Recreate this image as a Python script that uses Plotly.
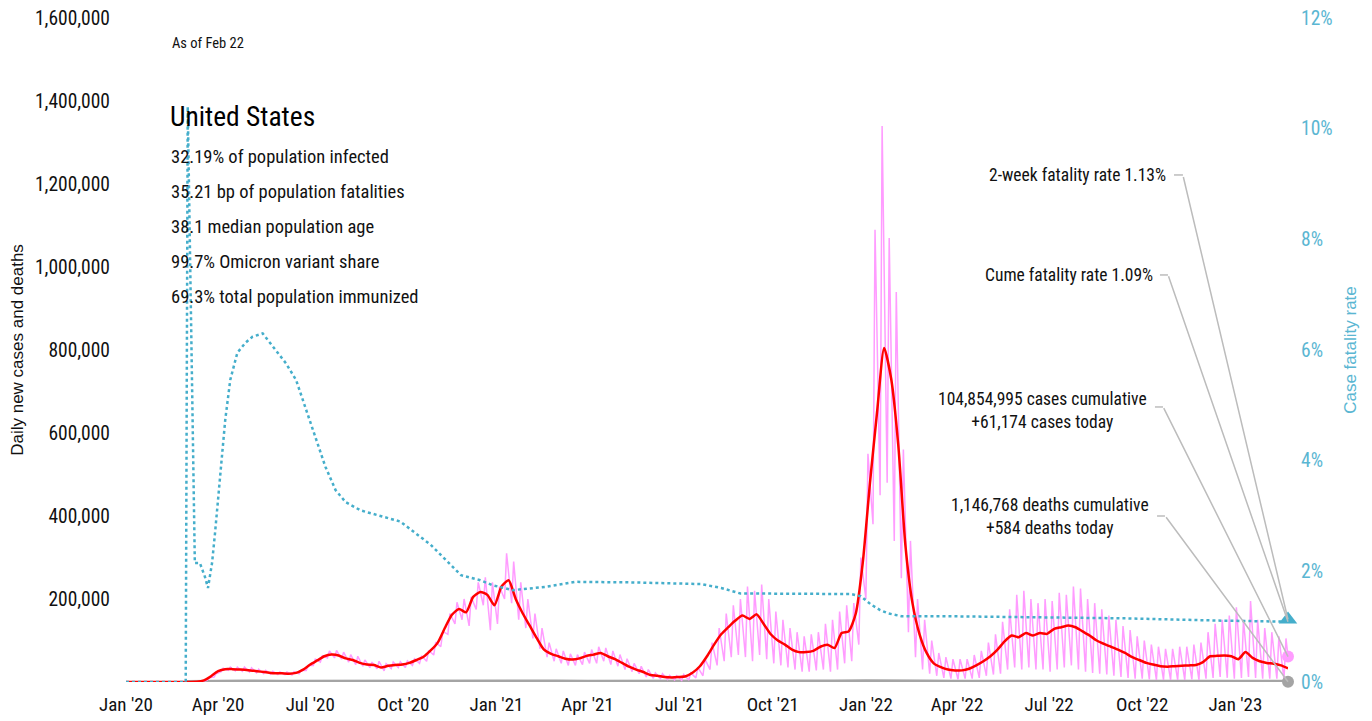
import pandas as pd
import plotly.graph_objects as go

# ---------------- data ----------------
START = "2020-01-01"
END = "2023-02-22"

# weekly 7-day average of new cases (thousands), one value per week starting 2020-01-01
cases_avg_k = [
    0, 0, 0, 0, 0, 0, 0, 0, 0, 0.1, 0.6, 4, 14, 26, 31, 31, 30, 29, 27, 25, 23, 21, 21, 20, 22, 30,
    42, 52, 62, 66, 64, 57, 53, 46, 42, 41, 35, 39, 41, 42, 46, 53, 61, 76, 95, 130, 162, 176, 168,
    205, 217, 210, 185,
    # 2021
    230, 245, 200, 165, 135, 105, 78, 68, 62, 56, 54, 57, 63, 66, 70, 62, 55, 46, 37, 30, 24, 17,
    15, 12, 11, 12, 14, 23, 38, 62, 90, 115, 132, 148, 160, 152, 163, 140, 115, 100, 90, 78, 72, 72,
    75, 85, 90, 82, 118, 122, 165, 290,
    # 2022
    480, 650, 805, 730, 570, 330, 190, 115, 70, 45, 36, 30, 28, 28, 32, 40, 50, 62, 78, 98, 112, 108,
    118, 112, 118, 116, 128, 132, 136, 132, 122, 112, 100, 92, 85, 78, 70, 60, 53, 46, 42, 38, 37,
    38, 39, 40, 41, 48, 62, 63, 64, 62,
    # 2023
    55, 72, 58, 50, 46, 44, 40, 33,
]

# daily new cases (thousands): weekly weekend low and weekly reporting-day high
cases_low_k = [
    0, 0, 0, 0, 0, 0, 0, 0, 0, 0.05, 0.5, 4, 12, 25, 28, 27, 26, 24, 22, 20, 19, 18, 18, 17, 20, 28,
    40, 48, 58, 58, 55, 48, 42, 38, 35, 32, 27, 32, 35, 35, 40, 45, 50, 65, 85, 115, 140, 150, 135,
    175, 185, 125, 140,
    200, 190, 150, 130, 105, 80, 60, 50, 45, 40, 40, 42, 45, 45, 50, 42, 38, 30, 25, 20, 12, 9,
    8, 6, 5, 4, 5, 10, 15, 30, 40, 50, 60, 65, 60, 50, 65, 55, 45, 40, 35, 30, 25, 25,
    28, 30, 25, 30, 45, 50, 90, 200,
    380, 450, 480, 340, 250, 120, 60, 30, 20, 15, 10, 8, 6, 8, 8, 10, 15, 18, 20, 30, 35, 30,
    35, 30, 30, 25, 30, 35, 40, 30, 25, 22, 20, 18, 15, 12, 10, 8, 8, 6, 5, 5, 5,
    5, 5, 6, 5, 8, 10, 12, 10, 8,
    10, 12, 10, 8, 8, 8, 6,
]
cases_high_k = [
    0, 0, 0, 0, 0, 0, 0, 0, 0, 0.2, 1.5, 10, 20, 33, 36, 36, 36, 34, 31, 28, 26, 24, 24, 25, 28, 40,
    55, 63, 75, 76, 72, 66, 62, 53, 48, 50, 44, 48, 49, 51, 56, 63, 76, 96, 122, 165, 192, 200, 205,
    240, 252, 240, 230,
    310, 290, 240, 200, 165, 130, 95, 80, 75, 68, 66, 72, 78, 85, 82, 75, 66, 56, 45, 38, 30, 22,
    20, 16, 15, 18, 22, 35, 55, 95, 130, 165, 185, 200, 230, 220, 235, 200, 170, 150, 130, 120, 110, 115,
    120, 140, 150, 170, 185, 190, 300, 550,
    1090, 1340, 1070, 940, 560, 340, 200, 150, 100, 70, 60, 55, 55, 55, 65, 75, 95, 115, 145, 175, 210, 220,
    200, 190, 200, 195, 215, 210, 230, 225, 200, 190, 175, 160, 150, 135, 125, 110, 100, 90, 85, 80, 80,
    85, 85, 90, 95, 120, 140, 150, 160, 180,
    150, 195, 150, 130, 120, 110, 105,
]
cases_today = 61174

# daily deaths, monthly level from March 2020
deaths_monthly = [
    50, 1900, 1500, 750, 850, 1050, 800, 750, 1200, 2500,
    3200, 2200, 1200, 750, 600, 350, 250, 700, 1800, 1500, 1100, 1250,
    2000, 2400, 1100, 500, 350, 320, 400, 480, 420, 380, 320, 400,
    520, 470,
]
deaths_today = 584

# cumulative case fatality rate (%)
cfr_dates = [
    "2020-01-01", "2020-02-29", "2020-03-02", "2020-03-09", "2020-03-14", "2020-03-19", "2020-03-22",
    "2020-03-26", "2020-03-29", "2020-04-03", "2020-04-08", "2020-04-13", "2020-04-20", "2020-04-28",
    "2020-05-05", "2020-05-15", "2020-05-25", "2020-06-07", "2020-06-17", "2020-06-26", "2020-07-06",
    "2020-07-16", "2020-07-26", "2020-08-05", "2020-08-20", "2020-08-30", "2020-09-28", "2020-10-28",
    "2020-11-27", "2020-12-16", "2020-12-28", "2021-01-17", "2021-02-19", "2021-03-20", "2021-05-15",
    "2021-07-22", "2021-08-11", "2021-08-30", "2021-10-15", "2021-12-17", "2021-12-27", "2022-01-06",
    "2022-01-15", "2022-01-23", "2022-02-05", "2022-03-15", "2022-06-15", "2022-09-15", "2022-12-15",
    "2023-02-22",
]
cfr_pct = [
    0, 0, 10.4, 2.15, 2.15, 1.9, 1.7, 2.15, 2.7, 3.65, 4.73, 5.46, 5.95, 6.13, 6.24, 6.3, 6.06, 5.76,
    5.46, 4.97, 4.43, 3.89, 3.47, 3.25, 3.1, 3.05, 2.9, 2.48, 1.93, 1.84, 1.75, 1.66, 1.72, 1.81, 1.8,
    1.77, 1.7, 1.6, 1.6, 1.59, 1.55, 1.4, 1.3, 1.24, 1.19, 1.19, 1.17, 1.15, 1.11, 1.09,
]
two_week_cfr = 1.13

left_tickvals = [200000, 400000, 600000, 800000, 1000000, 1200000, 1400000, 1600000]
right_tickvals = [0, 2, 4, 6, 8, 10, 12]
x_tickvals = ["2020-01-01", "2020-04-01", "2020-07-01", "2020-10-01", "2021-01-01", "2021-04-01",
              "2021-07-01", "2021-10-01", "2022-01-01", "2022-04-01", "2022-07-01", "2022-10-01",
              "2023-01-01"]
x_ticktext = ["Jan '20", "Apr '20", "Jul '20", "Oct '20", "Jan '21", "Apr '21", "Jul '21",
              "Oct '21", "Jan '22", "Apr '22", "Jul '22", "Oct '22", "Jan '23"]

stats_lines = [
    "32.19% of population infected",
    "35.21 bp of population fatalities",
    "38.1 median population age",
    "99.7% Omicron variant share",
    "69.3% total population immunized",
]

# ---------------- derived series ----------------
week_dates = pd.date_range(START, END, freq="7D")
assert len(week_dates) == len(cases_avg_k)
avg_y = [v * 1000 for v in cases_avg_k]

daily_x, daily_y = [], []
for i in range(len(cases_high_k)):
    daily_x.append(week_dates[i] + pd.Timedelta(days=3))
    daily_y.append(cases_low_k[i] * 1000)
    daily_x.append(week_dates[i] + pd.Timedelta(days=5))
    daily_y.append(cases_high_k[i] * 1000)
daily_x.append(pd.Timestamp(END))
daily_y.append(cases_today)

death_dates = list(pd.date_range("2020-03-01", periods=len(deaths_monthly), freq="MS")) + [pd.Timestamp(END)]
death_vals = deaths_monthly + [deaths_today]

NARROW = "Roboto Condensed, Noto Sans Condensed, Liberation Sans Narrow, DejaVu Sans Condensed, sans-serif"
REG = "Liberation Sans, Arial, sans-serif"
TEAL = "#45aecb"
TEAL_TXT = "#5ab6d2"
PINK = "#ff9cff"
RED = "#ff0000"
GRAY = "#a4a4a4"
LEAD = "#bcbcbc"

fig = go.Figure()
fig.add_trace(go.Scatter(x=death_dates, y=death_vals, mode="lines", cliponaxis=False,
                         line=dict(color=GRAY, width=4), hoverinfo="skip"))
fig.add_trace(go.Scatter(x=daily_x, y=daily_y, mode="lines", cliponaxis=False,
                         line=dict(color=PINK, width=1.5), hoverinfo="skip"))
fig.add_trace(go.Scatter(x=week_dates, y=avg_y, mode="lines", cliponaxis=False,
                         line=dict(color=RED, width=2.5, shape="spline", smoothing=0.6), hoverinfo="skip"))
fig.add_trace(go.Scatter(x=[END], y=[cases_today], mode="markers", cliponaxis=False,
                         marker=dict(color=PINK, size=12), hoverinfo="skip"))
fig.add_trace(go.Scatter(x=[END], y=[deaths_today], mode="markers", cliponaxis=False,
                         marker=dict(color=GRAY, size=12), hoverinfo="skip"))
fig.add_trace(go.Scatter(x=pd.to_datetime(cfr_dates), y=cfr_pct, mode="lines", yaxis="y2", cliponaxis=False,
                         line=dict(color=TEAL, width=2.5, dash="dot"), hoverinfo="skip"))
fig.add_trace(go.Scatter(x=[END], y=[two_week_cfr], mode="markers", yaxis="y2", cliponaxis=False,
                         marker=dict(color=TEAL, size=16, symbol="triangle-up"), hoverinfo="skip"))

# page body has an 8px margin: figure sized so the plot area lands at x 126-1288, y 18-682
fig.update_layout(
    width=1364, height=713, autosize=False,
    margin=dict(l=118, r=84, t=10, b=39, autoexpand=False),
    paper_bgcolor="white", plot_bgcolor="white",
    showlegend=False,
    xaxis=dict(range=[START, END], tickvals=x_tickvals, ticktext=x_ticktext, automargin=False,
               showgrid=False, zeroline=False, showline=False, ticks="", ticklabeloverflow="allow",
               tickfont=dict(family=NARROW, size=19, color="#111"), ticklabelstandoff=9),
    yaxis=dict(range=[0, 1600000], tickvals=left_tickvals,
               ticktext=[f"{v:,}" for v in left_tickvals], automargin=False,
               showgrid=False, zeroline=False, showline=False, ticks="", ticklabeloverflow="allow",
               tickfont=dict(family=NARROW, size=19.5, color="#111"), ticklabelstandoff=15,
               title=dict(text="Daily new cases and deaths", font=dict(family=REG, size=17, color="#111"),
                          standoff=6)),
    yaxis2=dict(range=[0, 12], tickvals=right_tickvals, ticktext=[f"{v}%" for v in right_tickvals],
                overlaying="y", side="right", automargin=False,
                showgrid=False, zeroline=False, showline=False, ticks="", ticklabeloverflow="allow",
                tickfont=dict(family=NARROW, size=19.5, color=TEAL_TXT), ticklabelstandoff=12,
                title=dict(text="Case fatality rate", font=dict(family=REG, size=17, color=TEAL_TXT),
                           standoff=12)),
)

ann = []
ann.append(dict(text="As of Feb 22", x=0.038, y=0.961, xref="paper", yref="paper", xanchor="left",
                yanchor="middle", showarrow=False, font=dict(family=NARROW, size=14.5, color="#111")))
ann.append(dict(text="United States", x=0.036, y=0.851, xref="paper", yref="paper", xanchor="left",
                yanchor="middle", showarrow=False, font=dict(family=NARROW, size=27.5, color="#000")))
stat_y = [0.7907, 0.738, 0.6852, 0.6325, 0.580]
for t, yy in zip(stats_lines, stat_y):
    ann.append(dict(text=t, x=0.037, y=yy, xref="paper", yref="paper", xanchor="left", yanchor="middle",
                    showarrow=False, font=dict(family=NARROW, size=18.5, color="#111")))

RFONT = dict(family=NARROW, size=17.5, color="#111")
ann.append(dict(text="2-week fatality rate 1.13%", x=0.8967, y=0.7636, xref="paper", yref="paper",
                xanchor="right", yanchor="middle", showarrow=False, font=RFONT))
ann.append(dict(text="Cume fatality rate 1.09%", x=0.8855, y=0.613, xref="paper", yref="paper",
                xanchor="right", yanchor="middle", showarrow=False, font=RFONT))
ann.append(dict(text="104,854,995 cases cumulative<br>+61,174 cases today", x=0.789, y=0.4096,
                xref="paper", yref="paper", xanchor="center", yanchor="middle", align="center",
                showarrow=False, font=RFONT))
ann.append(dict(text="1,146,768 deaths cumulative<br>+584 deaths today", x=0.795, y=0.25,
                xref="paper", yref="paper", xanchor="center", yanchor="middle", align="center",
                showarrow=False, font=RFONT))

# leader lines: arrow from label to end markers
ann.append(dict(text="", x=END, y=two_week_cfr, xref="x", yref="y2", showarrow=True, ax=-105, ay=-444,
                arrowhead=0, arrowwidth=1.5, arrowcolor=LEAD, standoff=0))
ann.append(dict(text="", x=END, y=cfr_pct[-1], xref="x", yref="y2", showarrow=True, ax=-120, ay=-347,
                arrowhead=0, arrowwidth=1.5, arrowcolor=LEAD, standoff=0))
ann.append(dict(text="", x=END, y=cases_today, xref="x", yref="y", showarrow=True, ax=-125, ay=-250,
                arrowhead=0, arrowwidth=1.5, arrowcolor=LEAD, standoff=0))
ann.append(dict(text="", x=END, y=deaths_today, xref="x", yref="y", showarrow=True, ax=-123, ay=-166,
                arrowhead=0, arrowwidth=1.5, arrowcolor=LEAD, standoff=0))
fig.update_layout(annotations=ann)

segs = [(0.9019, 0.9096, 0.7636), (0.8898, 0.8967, 0.613), (0.8855, 0.8924, 0.4142), (0.8873, 0.8941, 0.25)]
for x0, x1, yy in segs:
    fig.add_shape(type="line", xref="paper", yref="paper", x0=x0, x1=x1, y0=yy, y1=yy,
                  line=dict(color=LEAD, width=1.5))

fig.write_html("out.html")
